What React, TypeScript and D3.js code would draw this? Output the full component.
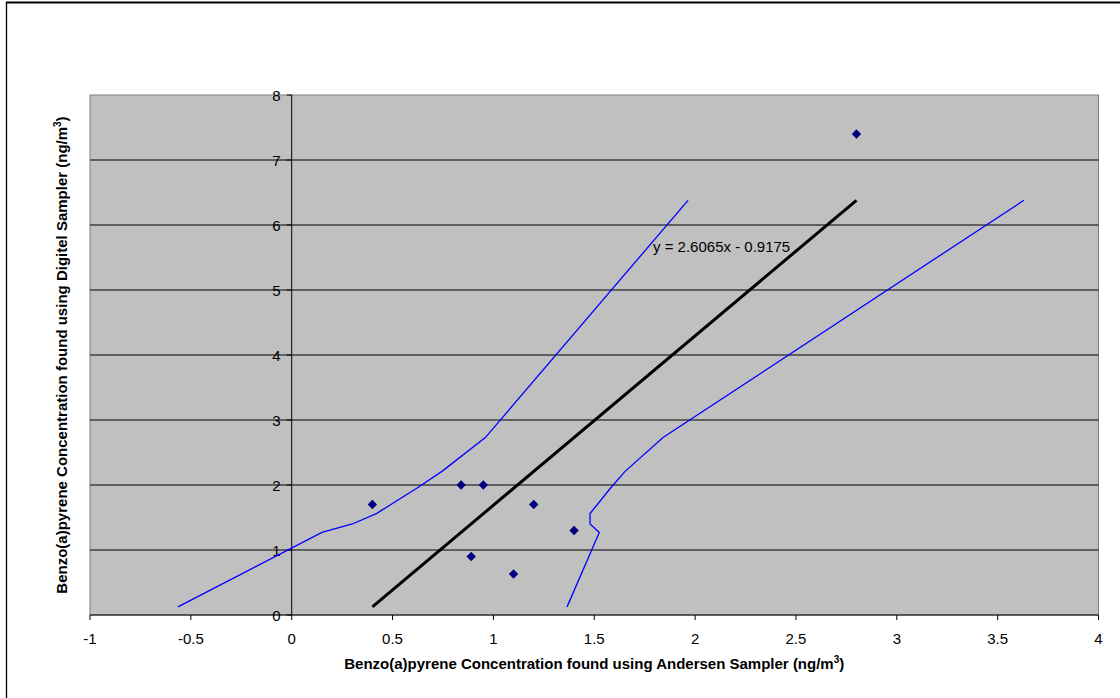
import * as d3 from "d3";

// scatter data (ng/m3)
const andersen = [0.4, 0.84, 0.95, 0.89, 1.1, 1.2, 1.4, 2.8];
const digitel = [1.7, 2.0, 2.0, 0.9, 0.63, 1.7, 1.3, 7.4];

// linear fit end points
const fitX = [0.4, 2.8];
const fitY = [0.125, 6.38];
const fitLabel = "y = 2.6065x - 0.9175";

// confidence band
const bandY = [0.125, 1.27, 1.4, 1.56, 1.95, 2.21, 2.73, 6.38];
const bandUpperX = [-0.564, 0.15, 0.3, 0.42, 0.62, 0.745, 0.96, 1.965];
const bandLowerX = [1.365, 1.525, 1.479, 1.479, 1.58, 1.653, 1.841, 3.63];

const xTicks = [-1, -0.5, 0, 0.5, 1, 1.5, 2, 2.5, 3, 3.5, 4];
const yTicks = [0, 1, 2, 3, 4, 5, 6, 7, 8];

const W = 1120;
const H = 698;
const font = "'Liberation Sans', Arial, sans-serif";

export default function App() {
  const x = d3.scaleLinear().domain([-1, 4]).range([90, 1098.5]);
  const y = d3.scaleLinear().domain([0, 8]).range([615, 95]);

  const line = d3
    .line<[number, number]>()
    .x((d) => x(d[0]))
    .y((d) => y(d[1]));

  const upper = line(bandY.map((v, i) => [bandUpperX[i], v]));
  const lower = line(bandY.map((v, i) => [bandLowerX[i], v]));
  const fit = line(fitX.map((v, i) => [v, fitY[i]]));

  const diamond = d3.symbol(d3.symbolSquare, 44)();
  const x0 = x(0);
  const [left, right] = x.range();
  const [bottom, top] = y.range();

  return (
    <svg
      width={W}
      height={H}
      style={{ position: "absolute", left: 0, top: 0, background: "#fff" }}
      fontFamily={font}
    >
      {/* cut-off title above the chart box */}
      <text x={14} y={-3.5} fontSize={17} fontWeight="bold">
        Figure 6: Comparing Benzo(a)pyrene Concentrations using the Digitel and Andersen Samplers
      </text>
      <line x1={6} x2={W} y1={2.5} y2={2.5} stroke="#000" strokeWidth={2} />
      <line x1={6.5} x2={6.5} y1={2} y2={H} stroke="#000" strokeWidth={1.3} />

      {/* plot area */}
      <rect x={left} y={top} width={right - left} height={bottom - top} fill="#c0c0c0" stroke="#808080" />

      {yTicks
        .filter((t) => t > 0 && t < 8)
        .map((t) => (
          <line key={t} x1={left} x2={right} y1={y(t)} y2={y(t)} stroke="#000" strokeWidth={1} />
        ))}

      {/* y axis at x = 0 */}
      <line x1={x0} x2={x0} y1={top} y2={bottom} stroke="#000" />
      {yTicks.map((t) => (
        <g key={t}>
          <line x1={x0 - 5} x2={x0} y1={y(t)} y2={y(t)} stroke="#000" />
          <text x={x0 - 11} y={y(t) + 5.5} fontSize={15} textAnchor="end">
            {t}
          </text>
        </g>
      ))}

      {/* x axis */}
      <line x1={left} x2={right} y1={bottom} y2={bottom} stroke="#000" />
      {xTicks.map((t) => (
        <g key={t}>
          <line x1={x(t)} x2={x(t)} y1={bottom} y2={bottom + 5} stroke="#000" />
          <text x={x(t)} y={644} fontSize={15} textAnchor="middle">
            {t}
          </text>
        </g>
      ))}

      {/* band and fit */}
      <path d={upper ?? ""} fill="none" stroke="#0000ff" strokeWidth={1.3} />
      <path d={lower ?? ""} fill="none" stroke="#0000ff" strokeWidth={1.3} />
      <path d={fit ?? ""} fill="none" stroke="#000" strokeWidth={3} />

      {andersen.map((v, i) => (
        <path
          key={i}
          d={diamond ?? ""}
          transform={`translate(${x(v)},${y(digitel[i])}) rotate(45)`}
          fill="#000080"
        />
      ))}

      <text x={653} y={252} fontSize={15}>
        {fitLabel}
      </text>

      {/* axis titles */}
      <text x={(left + right) / 2} y={669} fontSize={15} fontWeight="bold" textAnchor="middle">
        Benzo(a)pyrene Concentration found using Andersen Sampler (ng/m
        <tspan dy={-6} fontSize={10}>3</tspan>
        <tspan dy={6}>)</tspan>
      </text>
      <text
        transform={`translate(67,${(top + bottom) / 2}) rotate(-90)`}
        fontSize={15}
        fontWeight="bold"
        textAnchor="middle"
      >
        Benzo(a)pyrene Concentration found using Digitel Sampler (ng/m
        <tspan dy={-6} fontSize={10}>3</tspan>
        <tspan dy={6}>)</tspan>
      </text>
    </svg>
  );
}
